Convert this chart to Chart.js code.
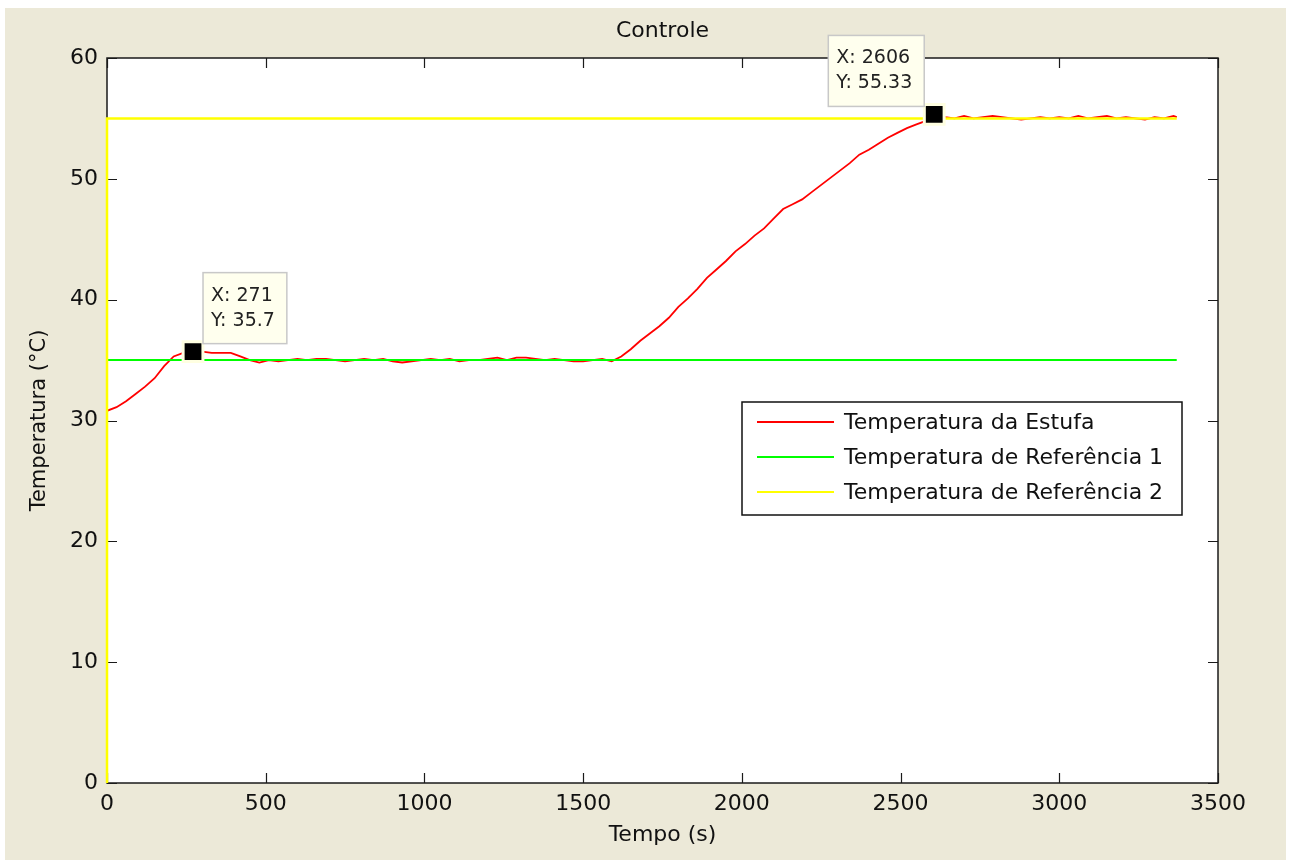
<!DOCTYPE html>
<html>
<head>
<meta charset="utf-8">
<script src="https://cdn.jsdelivr.net/npm/chart.js@4.4.1/dist/chart.umd.min.js"></script>
<style>
  html, body { margin: 0; padding: 0; background: #ffffff; }
  #wrap { width: 1290px; height: 864px; }
</style>
</head>
<body>
<div id="wrap"><canvas id="grafico" width="1290" height="864"></canvas></div>
<script>
// Tempo de ensaio (s) e temperatura medida na estufa (°C)
const tempo = [
  0, 30, 60, 90, 120, 150, 180, 210, 240, 271,
  300, 330, 360, 390, 420, 450, 480, 510, 540, 570,
  600, 630, 660, 690, 720, 750, 780, 810, 840, 870,
  900, 930, 960, 990, 1020, 1050, 1080, 1110, 1140, 1170,
  1200, 1230, 1260, 1290, 1320, 1350, 1380, 1410, 1440, 1470,
  1500, 1530, 1560, 1590, 1620, 1650, 1680, 1710, 1740, 1770,
  1800, 1830, 1860, 1890, 1920, 1950, 1980, 2010, 2040, 2070,
  2100, 2130, 2160, 2190, 2220, 2250, 2280, 2310, 2340, 2370,
  2400, 2430, 2460, 2490, 2520, 2550, 2580, 2606, 2640, 2670,
  2700, 2730, 2760, 2790, 2820, 2850, 2880, 2910, 2940, 2970,
  3000, 3030, 3060, 3090, 3120, 3150, 3180, 3210, 3240, 3270,
  3300, 3330, 3360, 3370
];
const temperatura = [
  30.8, 31.1, 31.6, 32.2, 32.8, 33.5, 34.5, 35.3, 35.6, 35.7,
  35.7, 35.6, 35.6, 35.6, 35.3, 35.0, 34.8, 35.0, 34.9, 35.0,
  35.1, 35.0, 35.1, 35.1, 35.0, 34.9, 35.0, 35.1, 35.0, 35.1,
  34.9, 34.8, 34.9, 35.0, 35.1, 35.0, 35.1, 34.9, 35.0, 35.0,
  35.1, 35.2, 35.0, 35.2, 35.2, 35.1, 35.0, 35.1, 35.0, 34.9,
  34.9, 35.0, 35.1, 34.9, 35.3, 35.9, 36.6, 37.2, 37.8, 38.5,
  39.4, 40.1, 40.9, 41.8, 42.5, 43.2, 44.0, 44.6, 45.3, 45.9,
  46.7, 47.5, 47.9, 48.3, 48.9, 49.5, 50.1, 50.7, 51.3, 52.0,
  52.4, 52.9, 53.4, 53.8, 54.2, 54.5, 54.8, 55.33, 55.1, 55.0,
  55.2, 55.0, 55.1, 55.2, 55.1, 55.0, 54.9, 55.0, 55.1, 55.0,
  55.1, 55.0, 55.2, 55.0, 55.1, 55.2, 55.0, 55.1, 55.0, 54.9,
  55.1, 55.0, 55.2, 55.1
];

// Referências de temperatura
const ref1Tempo = [0, 3370];
const ref1Valor = [35, 35];
const ref2Tempo = [0, 0, 3370];
const ref2Valor = [0, 55, 55];

// Pontos marcados (data tips)
const dicaX = [271, 2606];
const dicaY = [35.7, 55.33];

// Marcas dos eixos
const xTicks = [0, 500, 1000, 1500, 2000, 2500, 3000, 3500];
const yTicks = [0, 10, 20, 30, 40, 50, 60];

const nomes = ['Temperatura da Estufa', 'Temperatura de Referência 1', 'Temperatura de Referência 2'];
const cores = ['#ff0000', '#00ff00', '#ffff00'];

const FONTE = '"DejaVu Sans", "Liberation Sans", sans-serif';
const TEXTO = '#111111';

const pares = (xs, ys) => xs.map((x, i) => ({ x: x, y: ys[i] }));

// Fundo da figura, caixa dos eixos, legenda, dicas e título
const figura = {
  id: 'figura',
  beforeDraw(chart) {
    const { ctx, chartArea: a } = chart;
    ctx.save();
    ctx.fillStyle = '#ffffff';
    ctx.fillRect(0, 0, chart.width, chart.height);
    ctx.fillStyle = '#ECE9D8';
    ctx.fillRect(5, 8, chart.width - 9, chart.height - 12);
    ctx.fillStyle = '#ffffff';
    ctx.fillRect(a.left, a.top, a.right - a.left, a.bottom - a.top);
    ctx.restore();
  },
  beforeDatasetsDraw(chart) {
    const { ctx, chartArea: a, scales } = chart;
    const tl = 10;
    ctx.save();
    ctx.strokeStyle = '#1a1a1a';
    ctx.lineWidth = 1.5;
    ctx.strokeRect(a.left, a.top, a.right - a.left, a.bottom - a.top);
    ctx.lineWidth = 1.2;
    ctx.beginPath();
    xTicks.forEach(v => {
      const px = Math.round(scales.x.getPixelForValue(v)) + 0.5;
      ctx.moveTo(px, a.bottom); ctx.lineTo(px, a.bottom - tl);
      ctx.moveTo(px, a.top); ctx.lineTo(px, a.top + tl);
    });
    yTicks.forEach(v => {
      const py = Math.round(scales.y.getPixelForValue(v)) + 0.5;
      ctx.moveTo(a.left, py); ctx.lineTo(a.left + tl, py);
      ctx.moveTo(a.right, py); ctx.lineTo(a.right - tl, py);
    });
    ctx.stroke();
    ctx.restore();
  },
  afterDatasetsDraw(chart) {
    const { ctx, chartArea: a, scales } = chart;
    ctx.save();

    // Título
    ctx.fillStyle = TEXTO;
    ctx.font = '22px ' + FONTE;
    ctx.textAlign = 'center';
    ctx.textBaseline = 'middle';
    ctx.fillText('Controle', (a.left + a.right) / 2, 31);

    // Legenda
    const lx = a.right - 476, ly = a.top + 344, lw = 440, lh = 113;
    ctx.fillStyle = '#ffffff';
    ctx.fillRect(lx, ly, lw, lh);
    ctx.strokeStyle = '#111111';
    ctx.lineWidth = 1.5;
    ctx.strokeRect(lx, ly, lw, lh);
    ctx.textAlign = 'left';
    ctx.font = '22px ' + FONTE;
    chart.data.datasets.slice(0, 3).forEach((ds, i) => {
      const yy = ly + 20 + i * 35;
      ctx.strokeStyle = ds.borderColor;
      ctx.lineWidth = 2;
      ctx.beginPath();
      ctx.moveTo(lx + 15, yy); ctx.lineTo(lx + 92, yy);
      ctx.stroke();
      ctx.fillStyle = TEXTO;
      ctx.fillText(ds.label, lx + 102, yy + 1);
    });

    // Caixas das dicas
    ctx.font = '19px ' + FONTE;
    dicaX.forEach((xv, i) => {
      const mx = scales.x.getPixelForValue(xv);
      const my = scales.y.getPixelForValue(dicaY[i]);
      const l1 = 'X: ' + xv, l2 = 'Y: ' + dicaY[i];
      const w = Math.max(ctx.measureText(l1).width, ctx.measureText(l2).width) + 20;
      const h = 71;
      const bx = i === 0 ? mx + 10 : mx - 10 - w;
      const by = my - 8 - h;
      ctx.fillStyle = '#FFFFEE';
      ctx.fillRect(bx, by, w, h);
      ctx.strokeStyle = '#C8C8C8';
      ctx.lineWidth = 1.5;
      ctx.strokeRect(bx, by, w, h);
      ctx.fillStyle = '#222222';
      ctx.textAlign = 'left';
      ctx.textBaseline = 'middle';
      ctx.fillText(l1, bx + 8, by + 23);
      ctx.fillText(l2, bx + 8, by + 48);
    });
    ctx.restore();
  }
};

new Chart(document.getElementById('grafico'), {
  type: 'scatter',
  data: {
    datasets: [
      {
        label: nomes[0], data: pares(tempo, temperatura),
        showLine: true, borderColor: cores[0], backgroundColor: cores[0],
        borderWidth: 1.8, pointRadius: 0, tension: 0, order: 3
      },
      {
        label: nomes[1], data: pares(ref1Tempo, ref1Valor),
        showLine: true, borderColor: cores[1], backgroundColor: cores[1],
        borderWidth: 2, pointRadius: 0, order: 2
      },
      {
        label: nomes[2], data: pares(ref2Tempo, ref2Valor),
        showLine: true, borderColor: cores[2], backgroundColor: cores[2],
        borderWidth: 2.5, pointRadius: 0, order: 1, clip: 3
      },
      {
        label: 'dicas', data: pares(dicaX, dicaY),
        showLine: false, pointStyle: 'rect', pointRadius: 14,
        backgroundColor: '#000000', borderColor: '#FFFFE1', borderWidth: 3, order: 0, clip: false
      }
    ]
  },
  options: {
    responsive: false,
    devicePixelRatio: 1,
    animation: false,
    layout: { padding: { left: 0, top: 58, right: 72, bottom: 0 } },
    plugins: { legend: { display: false }, tooltip: { enabled: false }, title: { display: false } },
    scales: {
      x: {
        type: 'linear', min: 0, max: 3500,
        afterBuildTicks: s => { s.ticks = xTicks.map(v => ({ value: v })); },
        afterFit: s => { s.height = 81; },
        grid: { display: false, drawTicks: false },
        border: { display: false },
        ticks: { color: TEXTO, font: { family: FONTE, size: 22 }, padding: 8, maxRotation: 0, callback: v => String(v) },
        title: { display: true, text: 'Tempo (s)', color: TEXTO, font: { family: FONTE, size: 22 }, padding: { top: 0, bottom: 16 } }
      },
      y: {
        type: 'linear', min: 0, max: 60,
        afterBuildTicks: s => { s.ticks = yTicks.map(v => ({ value: v })); },
        afterFit: s => { s.width = 107; },
        grid: { display: false, drawTicks: false },
        border: { display: false },
        ticks: { color: TEXTO, font: { family: FONTE, size: 22 }, padding: 9, callback: v => String(v) },
        title: { display: true, text: 'Temperatura (°C)', color: TEXTO, font: { family: FONTE, size: 21 }, padding: { top: 27, bottom: 0 } }
      }
    }
  },
  plugins: [figura]
});
</script>
</body>
</html>
